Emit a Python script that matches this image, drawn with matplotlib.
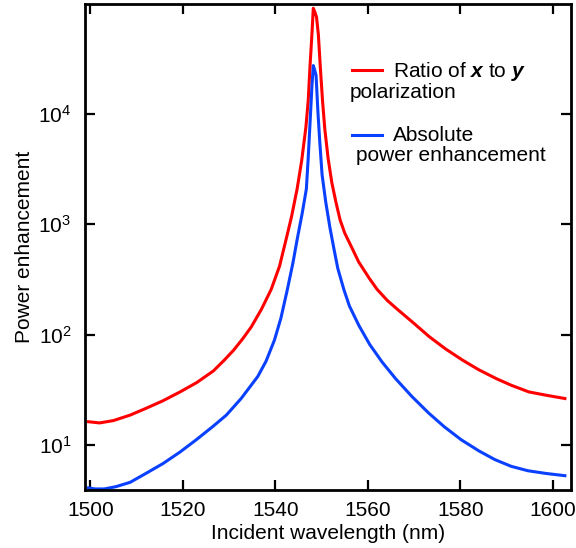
"""Power enhancement vs incident wavelength (log y), two resonance curves."""

import matplotlib
matplotlib.use("Agg")
import matplotlib.pyplot as plt

# data (nm, enhancement)
wl_ratio = [1499.6, 1502.0, 1505.0, 1508.6, 1512.0, 1515.7, 1519.4, 1523.0, 1526.6,
            1529.0, 1531.0, 1533.0, 1534.8, 1537.0, 1539.1, 1540.9, 1542.3, 1543.5,
            1544.7, 1545.7, 1546.6, 1547.1, 1547.5, 1547.9, 1548.2, 1548.5, 1548.9,
            1549.3, 1549.7, 1550.2, 1550.7, 1551.4, 1552.2, 1553.1, 1554.0, 1555.0,
            1556.4, 1558.0, 1560.3, 1562.0, 1564.2, 1566.2, 1570.0, 1573.3, 1576.8,
            1580.4, 1584.0, 1587.8, 1591.0, 1594.8, 1598.5, 1602.6]
ratio = [16.2, 15.8, 16.6, 18.6, 21.4, 25.1, 30.2, 36.7, 46.8,
         58.9, 72.4, 92.3, 117.5, 170, 257, 417, 724, 1175,
         2089, 3802, 7586, 13180, 27540, 52480, 91200, 85110, 75860,
         52480, 27540, 13180, 7244, 3981, 2399, 1585, 1096, 832,
         631, 457, 324, 257, 204, 172, 126, 95.5, 74.1,
         58.9, 47.9, 39.8, 34.7, 30.2, 28.2, 26.3]

wl_abs = [1499.6, 1501.0, 1503.0, 1505.5, 1508.6, 1512.0, 1515.7, 1519.4, 1523.0,
          1526.6, 1529.4, 1532.6, 1536.2, 1538.0, 1539.8, 1541.2, 1542.6, 1543.8,
          1544.7, 1545.8, 1546.7, 1547.1, 1547.5, 1547.9, 1548.2, 1548.5, 1548.8,
          1549.2, 1549.6, 1550.1, 1550.9, 1551.8, 1552.7, 1553.5, 1554.8, 1556.0,
          1558.1, 1560.4, 1563.1, 1566.0, 1569.5, 1573.1, 1576.5, 1580.2, 1584.0,
          1587.5, 1591.0, 1594.6, 1598.5, 1602.6]
absolute = [4.07, 3.98, 3.98, 4.17, 4.57, 5.50, 6.76, 8.61, 11.2,
            14.8, 18.6, 26.3, 41.7, 57.5, 89.1, 141, 257, 447,
            724, 1259, 2089, 3981, 8318, 17780, 27540, 25120, 22390,
            10470, 5623, 2818, 1585, 933, 589, 398, 257, 182,
            120, 81.3, 56.2, 39.8, 27.5, 19.5, 14.6, 11.1, 8.81,
            7.33, 6.38, 5.82, 5.50, 5.25]

yticks = [10, 100, 1000, 10000]
xticks = [1500, 1520, 1540, 1560, 1580, 1600]

plt.rcParams["font.family"] = ["Liberation Sans", "DejaVu Sans"]
plt.rcParams["mathtext.fontset"] = "custom"
plt.rcParams["mathtext.rm"] = "Liberation Sans"
plt.rcParams["mathtext.it"] = "Liberation Sans:italic"
plt.rcParams["mathtext.bf"] = "Liberation Sans:bold:italic"

fig = plt.figure(figsize=(5.76, 5.48), dpi=100)
ax = fig.add_axes([0.148, 0.106, 0.844, 0.887])

red = "#ff0000"
blue = "#0a40ff"
ax.plot(wl_ratio, ratio, color=red, lw=2.2, solid_joinstyle="round")
ax.plot(wl_abs, absolute, color=blue, lw=2.2, solid_joinstyle="round")

ax.set_yscale("log")
ax.set_xlim(1498.9, 1604.0)
ax.set_ylim(3.9, 1.0e5)
ax.set_xticks(xticks)
ax.set_yticks(yticks)
ax.minorticks_off()
ax.tick_params(which="major", direction="in", length=7, width=1.6,
               top=True, right=True, labelsize=15)
ax.tick_params(axis="x", pad=8)
ax.tick_params(axis="y", pad=10)
for s in ax.spines.values():
    s.set_linewidth(2.0)

ax.set_xlabel("Incident wavelength (nm)", fontsize=15, labelpad=3)
ax.set_ylabel("Power enhancement", fontsize=15, labelpad=3)

# hand-built legend inside the axes
ax.plot([0.549, 0.610], [0.864, 0.864], color=red, lw=2.2, transform=ax.transAxes)
ax.plot([0.549, 0.610], [0.730, 0.730], color=blue, lw=2.2, transform=ax.transAxes)
ax.text(0.633, 0.849, r"Ratio of $\mathbf{x}$ to $\mathbf{y}$", fontsize=15,
        transform=ax.transAxes, va="baseline")
ax.text(0.543, 0.807, "polarization", fontsize=15, transform=ax.transAxes, va="baseline")
ax.text(0.633, 0.717, "Absolute", fontsize=15, transform=ax.transAxes, va="baseline")
ax.text(0.556, 0.676, "power enhancement", fontsize=15, transform=ax.transAxes,
        va="baseline")

fig.savefig("out.png", dpi=100)
